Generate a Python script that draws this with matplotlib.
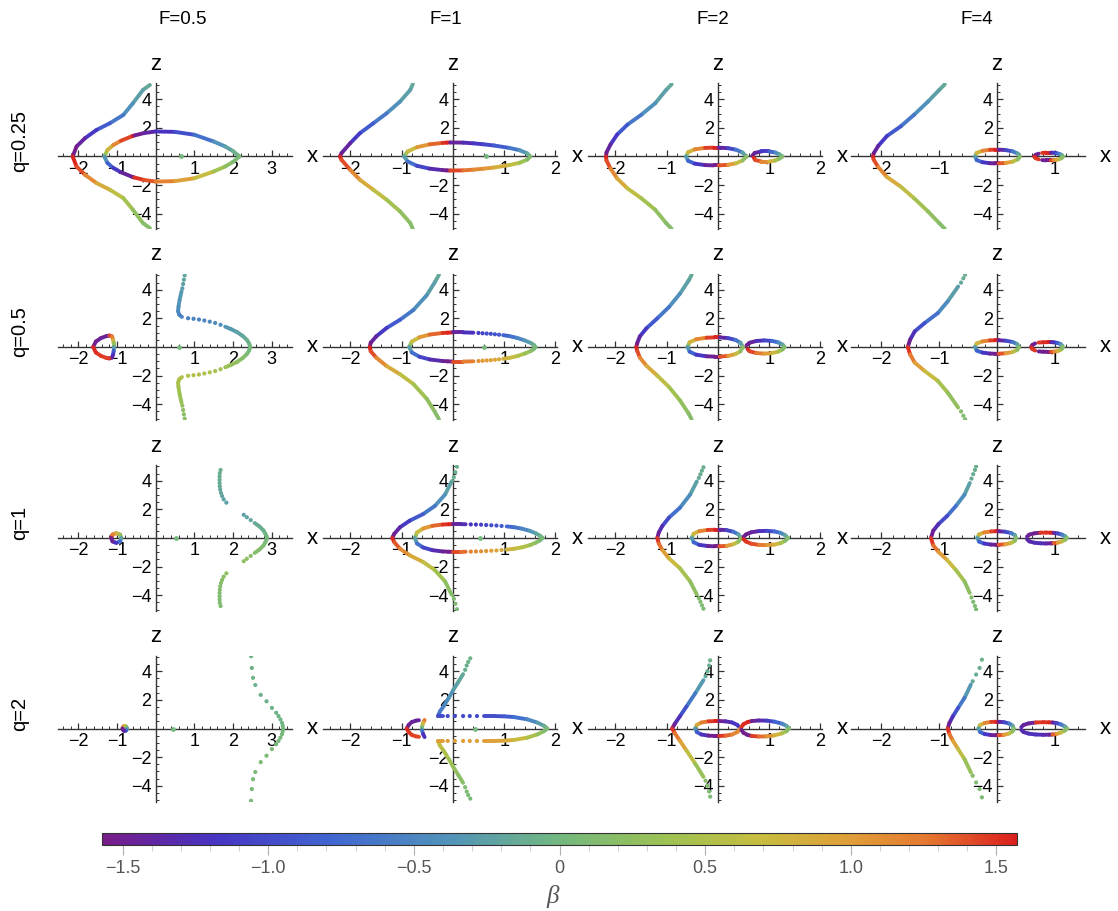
import numpy as np
import matplotlib
matplotlib.use("Agg")
import matplotlib.pyplot as plt
from matplotlib.collections import LineCollection
from matplotlib.colors import LinearSegmentedColormap, Normalize
from matplotlib.ticker import FixedLocator, MultipleLocator
import matplotlib.cm as cm

plt.rcParams['font.family'] = ['Liberation Sans', 'DejaVu Sans']

#===== labels / ranges =====#
F_labels = ['F=0.5', 'F=1', 'F=2', 'F=4']
q_labels = ['q=0.25', 'q=0.5', 'q=1', 'q=2']
x_ranges = [(-2.53, 3.53), (-2.53, 2.03), (-2.53, 2.03), (-2.52, 1.52)]
x_majors = [[-2, -1, 1, 2, 3], [-2, -1, 1, 2], [-2, -1, 1, 2], [-2, -1, 1]]
z_majors = [-4, -2, 2, 4]
cbar_ticks = [-1.5, -1.0, -0.5, 0, 0.5, 1.0, 1.5]
cbar_labels = ['\u22121.5', '\u22121.0', '\u22120.5', '0', '0.5', '1.0', '1.5']

#===== curves: (x, z, beta) =====#
# q=0.25, F=0.5
p00_arm_up = ([-0.15, -0.33, -0.59, -0.84, -1.19, -1.53, -1.83, -2.05, -2.15],
              [5.0, 4.65, 3.72, 2.9, 2.32, 1.86, 1.28, 0.7, 0.0],
              [-0.12, -0.2, -0.32, -0.5, -0.75, -1.0, -1.3, -1.5, -1.57])
p00_arm_dn = ([-2.15, -2.05, -1.83, -1.53, -1.19, -0.84, -0.59, -0.33, -0.15],
              [0.0, -0.7, -1.28, -1.86, -2.32, -2.9, -3.72, -4.65, -5.0],
              [1.57, 1.5, 1.3, 1.0, 0.75, 0.5, 0.32, 0.2, 0.12])
p00_oval_up = ([-1.33, -1.25, -1.1, -0.9, -0.6, -0.55, -0.3, 0.0, 0.5, 1.0, 1.5, 1.8, 2.0, 2.17],
               [0.0, 0.45, 0.8, 1.1, 1.43, 1.47, 1.64, 1.75, 1.72, 1.52, 1.05, 0.7, 0.38, 0.0],
               [0.15, 0.6, 1.0, 1.3, 1.55, -1.55, -1.45, -1.3, -1.1, -0.85, -0.5, -0.3, -0.15, 0.0])
p00_oval_dn = ([-1.33, -1.25, -1.1, -0.9, -0.6, -0.55, -0.3, 0.0, 0.5, 1.0, 1.5, 1.8, 2.0, 2.17],
               [0.0, -0.45, -0.8, -1.1, -1.43, -1.47, -1.64, -1.75, -1.72, -1.52, -1.05, -0.7, -0.38, 0.0],
               [-0.15, -0.6, -1.0, -1.3, -1.55, 1.55, 1.45, 1.3, 1.1, 0.85, 0.5, 0.3, 0.15, 0.0])

# q=0.25, F=1
p01_arm_up = ([-0.78, -0.83, -1.03, -1.29, -1.55, -1.81, -2.0, -2.17, -2.2],
              [5.05, 4.65, 3.83, 3.02, 2.32, 1.63, 0.93, 0.23, 0.0],
              [-0.12, -0.2, -0.32, -0.5, -0.75, -1.0, -1.3, -1.5, -1.57])
p01_arm_dn = ([-2.2, -2.17, -2.0, -1.81, -1.55, -1.29, -1.03, -0.83, -0.78],
              [0.0, -0.23, -0.93, -1.63, -2.32, -3.02, -3.83, -4.65, -5.05],
              [1.57, 1.5, 1.3, 1.0, 0.75, 0.5, 0.32, 0.2, 0.12])
p01_oval_up = ([-0.95, -0.88, -0.7, -0.45, -0.2, -0.12, -0.05, 0.2, 0.4, 0.6, 0.8, 1.1, 1.3, 1.45, 1.51],
               [0.0, 0.35, 0.65, 0.85, 0.95, 0.97, 0.98, 0.97, 0.92, 0.85, 0.77, 0.6, 0.44, 0.22, 0.0],
               [0.1, 0.5, 0.9, 1.2, 1.45, 1.55, -1.5, -1.35, -1.2, -1.1, -0.95, -0.75, -0.5, -0.25, 0.0])
p01_oval_dn = ([-0.95, -0.88, -0.7, -0.45, -0.2, -0.12, -0.05, 0.2, 0.4, 0.6, 0.8, 1.1, 1.3, 1.45, 1.51],
               [0.0, -0.35, -0.65, -0.85, -0.95, -0.97, -0.98, -0.97, -0.92, -0.85, -0.77, -0.6, -0.44, -0.22, 0.0],
               [-0.1, -0.5, -0.9, -1.2, -1.45, -1.55, 1.5, 1.35, 1.2, 1.1, 0.95, 0.75, 0.5, 0.25, 0.0])

# q=0.25, F=2
p02_arm_up = ([-0.9, -1.01, -1.22, -1.49, -1.76, -1.96, -2.09, -2.17, -2.18],
              [5.05, 4.64, 3.72, 2.92, 2.23, 1.54, 0.85, 0.28, 0.0],
              [-0.12, -0.2, -0.32, -0.5, -0.75, -1.0, -1.3, -1.5, -1.57])
p02_arm_dn = ([-2.18, -2.17, -2.09, -1.96, -1.76, -1.49, -1.22, -1.01, -0.9],
              [0.0, -0.28, -0.85, -1.54, -2.23, -2.92, -3.72, -4.64, -5.05],
              [1.57, 1.5, 1.3, 1.0, 0.75, 0.5, 0.32, 0.2, 0.12])
p02_loopL_up = ([-0.62, -0.58, -0.45, -0.25, -0.08, 0.02, 0.2, 0.35, 0.48, 0.56],
                [0.0, 0.3, 0.5, 0.6, 0.62, 0.62, 0.58, 0.48, 0.28, 0.0],
                [0.05, 0.6, 1.0, 1.35, 1.55, -1.55, -1.2, -0.85, -0.45, 0.0])
p02_loopL_dn = ([-0.62, -0.58, -0.45, -0.25, -0.08, 0.02, 0.2, 0.35, 0.48, 0.56],
                [0.0, -0.3, -0.5, -0.6, -0.62, -0.62, -0.58, -0.48, -0.28, 0.0],
                [-0.05, -0.6, -1.0, -1.35, -1.55, 1.55, 1.2, 0.85, 0.45, 0.0])
p02_loopR_up = ([0.67, 0.72, 0.85, 1.0, 1.12, 1.2, 1.26],
                [0.05, 0.25, 0.35, 0.35, 0.28, 0.15, 0.0],
                [-1.55, -1.5, -1.3, -1.0, -0.6, -0.3, 0.0])
p02_loopR_dn = ([0.7, 0.73, 0.85, 1.0, 1.12, 1.2, 1.26],
                [-0.08, -0.25, -0.35, -0.35, -0.28, -0.15, 0.0],
                [1.55, 1.5, 1.3, 1.0, 0.6, 0.3, 0.0])

# q=0.25, F=4
p03_arm_up = ([-0.9, -1.0, -1.19, -1.43, -1.66, -1.9, -2.05, -2.13, -2.14],
              [5.05, 4.64, 3.84, 2.92, 2.11, 1.43, 0.74, 0.21, 0.0],
              [-0.12, -0.2, -0.32, -0.5, -0.75, -1.0, -1.3, -1.5, -1.57])
p03_arm_dn = ([-2.14, -2.13, -2.05, -1.9, -1.66, -1.43, -1.19, -1.0, -0.9],
              [0.0, -0.21, -0.74, -1.43, -2.11, -2.92, -3.84, -4.64, -5.05],
              [1.57, 1.5, 1.3, 1.0, 0.75, 0.5, 0.32, 0.2, 0.12])
p03_loopL_up = ([-0.38, -0.35, -0.25, -0.12, -0.03, 0.03, 0.15, 0.27, 0.36, 0.4],
                [0.0, 0.25, 0.4, 0.47, 0.48, 0.48, 0.45, 0.36, 0.2, 0.0],
                [0.05, 0.6, 1.0, 1.35, 1.55, -1.55, -1.2, -0.8, -0.4, 0.0])
p03_loopL_dn = ([-0.38, -0.35, -0.25, -0.12, -0.03, 0.03, 0.15, 0.27, 0.36, 0.4],
                [0.0, -0.25, -0.4, -0.47, -0.48, -0.48, -0.45, -0.36, -0.2, 0.0],
                [-0.05, -0.6, -1.0, -1.35, -1.55, 1.55, 1.2, 0.8, 0.4, 0.0])
p03_capR_up = ([0.72, 0.67, 0.645], [0.2, 0.12, 0.02], [-1.45, -1.5, -1.55])
p03_capR_dn = ([0.645, 0.67, 0.72], [-0.02, -0.12, -0.2], [1.55, 1.5, 1.45])
p03_loopR_up = ([0.78, 0.85, 0.9, 0.93, 0.98, 1.03, 1.08, 1.12, 1.14],
                [0.25, 0.27, 0.27, 0.27, 0.26, 0.23, 0.18, 0.1, 0.0],
                [1.45, 1.5, 1.55, -1.55, -1.3, -1.0, -0.7, -0.35, 0.0])
p03_loopR_dn = ([0.78, 0.85, 0.9, 0.93, 0.98, 1.03, 1.08, 1.12, 1.14],
                [-0.25, -0.27, -0.27, -0.27, -0.26, -0.23, -0.18, -0.1, 0.0],
                [-1.45, -1.5, -1.55, 1.55, 1.3, 1.0, 0.7, 0.35, 0.0])

# q=0.5, F=0.5
p10_drop_up = ([-1.62, -1.55, -1.42, -1.28, -1.2],
               [0.0, 0.38, 0.62, 0.76, 0.8],
               [-1.55, -1.5, -1.45, -1.45, -1.5])
p10_drop_side = ([-1.2, -1.13, -1.1, -1.09, -1.09, -1.09, -1.1, -1.13, -1.2],
                 [0.8, 0.74, 0.5, 0.25, 0.0, -0.25, -0.5, -0.74, -0.8],
                 [1.5, 1.35, 1.1, 0.6, 0.0, -0.6, -1.1, -1.35, -1.5])
p10_drop_dn = ([-1.2, -1.28, -1.42, -1.55, -1.62],
               [-0.8, -0.76, -0.62, -0.38, 0.0],
               [1.5, 1.45, 1.45, 1.5, 1.55])
p10_top_dots = ([0.75, 0.73, 0.71, 0.69], [5.0, 4.7, 4.4, 4.1], [-0.2, -0.22, -0.25, -0.28])
p10_up_a = ([0.67, 0.62, 0.59, 0.58, 0.61, 0.68],
            [3.9, 3.3, 2.8, 2.5, 2.25, 2.1],
            [-0.3, -0.35, -0.4, -0.45, -0.5, -0.55])
p10_up_dots = ([0.84, 0.98, 1.12, 1.26, 1.4, 1.54, 1.68],
               [2.01, 1.97, 1.92, 1.85, 1.77, 1.68, 1.55],
               [-0.55, -0.55, -0.52, -0.5, -0.48, -0.45, -0.42])
p10_up_b = ([1.8, 1.95, 2.1, 2.25, 2.36, 2.42, 2.45],
            [1.42, 1.25, 1.05, 0.78, 0.5, 0.25, 0.0],
            [-0.38, -0.33, -0.27, -0.2, -0.12, -0.06, 0.0])
p10_bot_dots = ([0.75, 0.73, 0.71, 0.69], [-5.0, -4.7, -4.4, -4.1], [0.2, 0.22, 0.25, 0.28])
p10_dn_a = ([0.67, 0.62, 0.59, 0.58, 0.61, 0.68],
            [-3.9, -3.3, -2.8, -2.5, -2.25, -2.1],
            [0.3, 0.35, 0.4, 0.45, 0.5, 0.55])
p10_dn_dots = ([0.84, 0.98, 1.12, 1.26, 1.4, 1.54, 1.68],
               [-2.01, -1.97, -1.92, -1.85, -1.77, -1.68, -1.55],
               [0.55, 0.55, 0.52, 0.5, 0.48, 0.45, 0.42])
p10_dn_b = ([1.8, 1.95, 2.1, 2.25, 2.36, 2.42, 2.45],
            [-1.42, -1.25, -1.05, -0.78, -0.5, -0.25, 0.0],
            [0.38, 0.33, 0.27, 0.2, 0.12, 0.06, 0.0])

# q=0.5, F=1
p11_arm_up = ([-0.27, -0.35, -0.51, -0.77, -1.03, -1.29, -1.49, -1.6, -1.62],
              [5.05, 4.53, 3.61, 2.58, 1.9, 1.33, 0.75, 0.3, 0.0],
              [-0.12, -0.2, -0.32, -0.5, -0.75, -1.0, -1.3, -1.5, -1.57])
p11_arm_dn = ([-1.62, -1.6, -1.49, -1.29, -1.03, -0.77, -0.51, -0.35, -0.27],
              [0.0, -0.3, -0.75, -1.33, -1.9, -2.58, -3.61, -4.53, -5.05],
              [1.57, 1.5, 1.3, 1.0, 0.75, 0.5, 0.32, 0.2, 0.12])
p11_oval_up_a = ([-0.85, -0.8, -0.65, -0.45, -0.2, -0.1, 0.0, 0.2, 0.4],
                 [0.0, 0.38, 0.68, 0.87, 0.98, 1.0, 1.02, 1.02, 1.0],
                 [0.05, 0.5, 0.9, 1.2, 1.45, 1.55, -1.5, -1.3, -1.15])
p11_oval_up_dots = ([0.5, 0.58, 0.66, 0.74, 0.82, 0.9],
                    [0.98, 0.96, 0.94, 0.92, 0.89, 0.86],
                    [-1.1, -1.05, -1.0, -0.97, -0.93, -0.9])
p11_oval_up_b = ([0.98, 1.1, 1.25, 1.4, 1.52, 1.58, 1.61],
                 [0.83, 0.76, 0.64, 0.46, 0.28, 0.14, 0.0],
                 [-0.85, -0.75, -0.6, -0.42, -0.25, -0.12, 0.0])
p11_oval_dn_a = ([-0.85, -0.8, -0.65, -0.45, -0.2, -0.1, 0.0, 0.2, 0.4],
                 [0.0, -0.38, -0.68, -0.87, -0.98, -1.0, -1.02, -1.02, -1.0],
                 [-0.05, -0.5, -0.9, -1.2, -1.45, -1.55, 1.5, 1.3, 1.15])
p11_oval_dn_dots = ([0.5, 0.58, 0.66, 0.74, 0.82, 0.9],
                    [-0.98, -0.96, -0.94, -0.92, -0.89, -0.86],
                    [1.1, 1.05, 1.0, 0.97, 0.93, 0.9])
p11_oval_dn_b = ([0.98, 1.1, 1.25, 1.4, 1.52, 1.58, 1.61],
                 [-0.83, -0.76, -0.64, -0.46, -0.28, -0.14, 0.0],
                 [0.85, 0.75, 0.6, 0.42, 0.25, 0.12, 0.0])

# q=0.5, F=2
p12_arm_up = ([-0.51, -0.57, -0.74, -0.95, -1.18, -1.39, -1.52, -1.57, -1.59],
              [5.05, 4.64, 3.72, 2.8, 2.0, 1.31, 0.74, 0.28, 0.0],
              [-0.12, -0.2, -0.32, -0.5, -0.75, -1.0, -1.3, -1.5, -1.57])
p12_arm_dn = ([-1.59, -1.57, -1.52, -1.39, -1.18, -0.95, -0.74, -0.57, -0.51],
              [0.0, -0.28, -0.74, -1.31, -2.0, -2.8, -3.72, -4.64, -5.05],
              [1.57, 1.5, 1.3, 1.0, 0.75, 0.5, 0.32, 0.2, 0.12])
p12_loopL_up = ([-0.59, -0.55, -0.42, -0.22, -0.06, 0.04, 0.2, 0.34, 0.44, 0.49],
                [0.0, 0.33, 0.54, 0.65, 0.67, 0.67, 0.62, 0.5, 0.3, 0.0],
                [0.05, 0.6, 1.0, 1.35, 1.55, -1.55, -1.2, -0.85, -0.45, 0.0])
p12_loopL_dn = ([-0.59, -0.55, -0.42, -0.22, -0.06, 0.04, 0.2, 0.34, 0.44, 0.49],
                [0.0, -0.33, -0.54, -0.65, -0.67, -0.67, -0.62, -0.5, -0.3, 0.0],
                [-0.05, -0.6, -1.0, -1.35, -1.55, 1.55, 1.2, 0.85, 0.45, 0.0])
p12_loopR_up = ([0.56, 0.62, 0.75, 0.9, 1.05, 1.18, 1.26, 1.3],
                [0.12, 0.3, 0.42, 0.46, 0.43, 0.32, 0.17, 0.0],
                [-1.55, -1.5, -1.35, -1.15, -0.9, -0.6, -0.3, 0.0])
p12_loopR_dn = ([0.58, 0.62, 0.75, 0.9, 1.05, 1.18, 1.26, 1.3],
                [-0.15, -0.3, -0.42, -0.46, -0.43, -0.32, -0.17, 0.0],
                [1.55, 1.5, 1.35, 1.15, 0.9, 0.6, 0.3, 0.0])

# q=0.5, F=4
p13_top_dots = ([-0.55, -0.58, -0.62], [5.05, 4.8, 4.5], [-0.1, -0.13, -0.16])
p13_arm_up = ([-0.67, -0.85, -1.02, -1.25, -1.42, -1.5, -1.54],
              [4.23, 3.19, 2.37, 1.67, 1.09, 0.51, 0.0],
              [-0.2, -0.35, -0.55, -0.85, -1.1, -1.4, -1.57])
p13_bot_dots = ([-0.55, -0.58, -0.62], [-5.05, -4.8, -4.5], [0.1, 0.13, 0.16])
p13_arm_dn = ([-1.54, -1.5, -1.42, -1.25, -1.02, -0.85, -0.67],
              [0.0, -0.51, -1.09, -1.67, -2.37, -3.19, -4.23],
              [1.57, 1.4, 1.1, 0.85, 0.55, 0.35, 0.2])
p13_loopL_up = ([-0.38, -0.35, -0.25, -0.12, -0.03, 0.03, 0.15, 0.27, 0.35, 0.38],
                [0.0, 0.25, 0.39, 0.46, 0.47, 0.47, 0.44, 0.35, 0.2, 0.0],
                [0.05, 0.6, 1.0, 1.35, 1.55, -1.55, -1.2, -0.8, -0.4, 0.0])
p13_loopL_dn = ([-0.38, -0.35, -0.25, -0.12, -0.03, 0.03, 0.15, 0.27, 0.35, 0.38],
                [0.0, -0.25, -0.39, -0.46, -0.47, -0.47, -0.44, -0.35, -0.2, 0.0],
                [-0.05, -0.6, -1.0, -1.35, -1.55, 1.55, 1.2, 0.8, 0.4, 0.0])
p13_capR_up = ([0.66, 0.61, 0.59], [0.25, 0.14, 0.02], [-1.45, -1.5, -1.55])
p13_capR_dn = ([0.59, 0.61, 0.66], [-0.02, -0.14, -0.25], [1.55, 1.5, 1.45])
p13_loopR_up = ([0.72, 0.8, 0.88, 0.93, 0.98, 1.04, 1.09, 1.12, 1.14],
                [0.31, 0.33, 0.34, 0.34, 0.33, 0.29, 0.22, 0.12, 0.0],
                [1.45, 1.5, 1.55, -1.55, -1.3, -1.0, -0.7, -0.35, 0.0])
p13_loopR_dn = ([0.72, 0.8, 0.88, 0.93, 0.98, 1.04, 1.09, 1.12, 1.14],
                [-0.31, -0.33, -0.34, -0.34, -0.33, -0.29, -0.22, -0.12, 0.0],
                [-1.45, -1.5, -1.55, 1.55, 1.3, 1.0, 0.7, 0.35, 0.0])

# q=1, F=0.5
p20_ring = ([-1.15, -1.12, -1.02, -0.92, -0.89, -0.92, -1.02, -1.12, -1.15],
            [0.0, 0.24, 0.34, 0.24, 0.0, -0.24, -0.34, -0.24, 0.0],
            [1.55, 1.4, 1.0, 0.5, 0.0, -0.5, -1.0, -1.4, -1.55])
p20_col_up = ([1.68, 1.66, 1.655, 1.655, 1.655, 1.66, 1.67, 1.69, 1.72, 1.76, 1.83],
              [4.75, 4.53, 4.3, 4.07, 3.84, 3.61, 3.38, 3.15, 2.93, 2.7, 2.47],
              [-0.1, -0.1, -0.12, -0.12, -0.14, -0.15, -0.16, -0.18, -0.2, -0.22, -0.25])
p20_col_dn = ([1.68, 1.66, 1.655, 1.655, 1.655, 1.66, 1.67, 1.69, 1.72, 1.76, 1.83],
              [-4.75, -4.53, -4.3, -4.07, -3.84, -3.61, -3.38, -3.15, -2.93, -2.7, -2.47],
              [0.1, 0.1, 0.12, 0.12, 0.14, 0.15, 0.16, 0.18, 0.2, 0.22, 0.25])
p20_vtx_up_dots = ([2.28, 2.36, 2.46], [1.62, 1.45, 1.25], [-0.25, -0.22, -0.2])
p20_vtx_dn_dots = ([2.28, 2.36, 2.46], [-1.62, -1.45, -1.25], [0.25, 0.22, 0.2])
p20_vtx = ([2.56, 2.69, 2.79, 2.84, 2.87, 2.88, 2.87, 2.84, 2.79, 2.69, 2.56],
           [1.05, 0.8, 0.53, 0.3, 0.12, 0.0, -0.12, -0.3, -0.53, -0.8, -1.05],
           [-0.17, -0.13, -0.09, -0.05, -0.02, 0.0, 0.02, 0.05, 0.09, 0.13, 0.17])

# q=1, F=1
p21_top_dots = ([0.08, 0.05, 0.02], [4.98, 4.6, 4.25], [-0.08, -0.1, -0.12])
p21_arm_up = ([-0.01, -0.04, -0.15, -0.35, -0.58, -0.84, -1.03, -1.14, -1.18],
              [4.0, 3.84, 3.04, 2.24, 1.67, 1.21, 0.75, 0.3, 0.0],
              [-0.14, -0.17, -0.3, -0.5, -0.75, -1.0, -1.25, -1.48, -1.57])
p21_bot_dots = ([0.08, 0.05, 0.02], [-4.98, -4.6, -4.25], [0.08, 0.1, 0.12])
p21_arm_dn = ([-1.18, -1.14, -1.03, -0.84, -0.58, -0.35, -0.15, -0.04, -0.01],
              [0.0, -0.3, -0.75, -1.21, -1.67, -2.24, -3.04, -3.84, -4.0],
              [1.57, 1.48, 1.25, 1.0, 0.75, 0.5, 0.3, 0.17, 0.14])
p21_oval_up_a = ([-0.74, -0.7, -0.58, -0.4, -0.2, -0.08, 0.0, 0.15, 0.25],
                 [0.0, 0.38, 0.66, 0.85, 0.94, 0.96, 0.97, 0.97, 0.96],
                 [0.05, 0.5, 0.9, 1.2, 1.45, 1.55, -1.5, -1.35, -1.25])
p21_oval_up_dots = ([0.35, 0.45, 0.55, 0.65, 0.75, 0.85, 0.95],
                    [0.95, 0.94, 0.93, 0.91, 0.89, 0.87, 0.84],
                    [-1.2, -1.15, -1.1, -1.05, -1.0, -0.95, -0.9])
p21_oval_up_b = ([1.05, 1.2, 1.35, 1.5, 1.62, 1.7, 1.75],
                 [0.81, 0.75, 0.65, 0.5, 0.32, 0.16, 0.0],
                 [-0.85, -0.72, -0.58, -0.42, -0.25, -0.12, 0.0])
p21_oval_dn_a = ([-0.74, -0.7, -0.58, -0.4, -0.2, -0.08, 0.0, 0.15, 0.25],
                 [0.0, -0.38, -0.66, -0.85, -0.94, -0.96, -0.97, -0.97, -0.96],
                 [-0.05, -0.5, -0.9, -1.2, -1.45, -1.55, 1.5, 1.35, 1.25])
p21_oval_dn_dots = ([0.35, 0.45, 0.55, 0.65, 0.75, 0.85, 0.95],
                    [-0.95, -0.94, -0.93, -0.91, -0.89, -0.87, -0.84],
                    [1.2, 1.15, 1.1, 1.05, 1.0, 0.95, 0.9])
p21_oval_dn_b = ([1.05, 1.2, 1.35, 1.5, 1.62, 1.7, 1.75],
                 [-0.81, -0.75, -0.65, -0.5, -0.32, -0.16, 0.0],
                 [0.85, 0.72, 0.58, 0.42, 0.25, 0.12, 0.0])

# q=1, F=2
p22_top_dots = ([-0.28, -0.31, -0.34, -0.37], [4.94, 4.7, 4.45, 4.2], [-0.08, -0.1, -0.12, -0.14])
p22_arm_up = ([-0.41, -0.54, -0.74, -0.95, -1.08, -1.15, -1.18],
              [3.95, 3.03, 2.11, 1.43, 0.85, 0.39, 0.0],
              [-0.18, -0.32, -0.55, -0.85, -1.15, -1.42, -1.57])
p22_bot_dots = ([-0.28, -0.31, -0.34, -0.37], [-4.94, -4.7, -4.45, -4.2], [0.08, 0.1, 0.12, 0.14])
p22_arm_dn = ([-1.18, -1.15, -1.08, -0.95, -0.74, -0.54, -0.41],
              [0.0, -0.39, -0.85, -1.43, -2.11, -3.03, -3.95],
              [1.57, 1.42, 1.15, 0.85, 0.55, 0.32, 0.18])
p22_loopL_up = ([-0.51, -0.47, -0.36, -0.2, -0.06, 0.03, 0.17, 0.3, 0.4, 0.46],
                [0.0, 0.3, 0.48, 0.56, 0.58, 0.58, 0.55, 0.44, 0.26, 0.0],
                [0.05, 0.6, 1.0, 1.35, 1.55, -1.55, -1.2, -0.85, -0.45, 0.0])
p22_loopL_dn = ([-0.51, -0.47, -0.36, -0.2, -0.06, 0.03, 0.17, 0.3, 0.4, 0.46],
                [0.0, -0.3, -0.48, -0.56, -0.58, -0.58, -0.55, -0.44, -0.26, 0.0],
                [-0.05, -0.6, -1.0, -1.35, -1.55, 1.55, 1.2, 0.85, 0.45, 0.0])
p22_loopR_up = ([0.5, 0.55, 0.65, 0.8, 0.95, 1.1, 1.22, 1.31, 1.37],
                [0.08, 0.25, 0.4, 0.48, 0.5, 0.46, 0.36, 0.2, 0.0],
                [-1.55, -1.5, -1.45, -1.35, -1.15, -0.9, -0.6, -0.3, 0.0])
p22_loopR_dn = ([0.5, 0.55, 0.65, 0.8, 0.95, 1.1, 1.22, 1.31, 1.37],
                [-0.08, -0.25, -0.4, -0.48, -0.5, -0.46, -0.36, -0.2, 0.0],
                [1.55, 1.5, 1.45, 1.35, 1.15, 0.9, 0.6, 0.3, 0.0])

# q=1, F=4
p23_top_dots = ([-0.36, -0.38, -0.41, -0.44], [5.0, 4.75, 4.46, 4.15], [-0.08, -0.1, -0.12, -0.14])
p23_arm_up = ([-0.47, -0.56, -0.71, -0.86, -1.01, -1.1, -1.14],
              [3.84, 3.03, 2.23, 1.54, 0.97, 0.51, 0.0],
              [-0.18, -0.32, -0.55, -0.85, -1.15, -1.42, -1.57])
p23_bot_dots = ([-0.36, -0.38, -0.41, -0.44], [-5.0, -4.75, -4.46, -4.15], [0.08, 0.1, 0.12, 0.14])
p23_arm_dn = ([-1.14, -1.1, -1.01, -0.86, -0.71, -0.56, -0.47],
              [0.0, -0.51, -0.97, -1.54, -2.23, -3.03, -3.84],
              [1.57, 1.42, 1.15, 0.85, 0.55, 0.32, 0.18])
p23_loopL_up = ([-0.34, -0.31, -0.22, -0.1, -0.02, 0.03, 0.14, 0.24, 0.31, 0.33],
                [0.0, 0.25, 0.39, 0.46, 0.47, 0.47, 0.44, 0.35, 0.2, 0.0],
                [0.05, 0.6, 1.0, 1.35, 1.55, -1.55, -1.2, -0.8, -0.4, 0.0])
p23_loopL_dn = ([-0.34, -0.31, -0.22, -0.1, -0.02, 0.03, 0.14, 0.24, 0.31, 0.33],
                [0.0, -0.25, -0.39, -0.46, -0.47, -0.47, -0.44, -0.35, -0.2, 0.0],
                [-0.05, -0.6, -1.0, -1.35, -1.55, 1.55, 1.2, 0.8, 0.4, 0.0])
p23_loopR_up = ([0.52, 0.56, 0.65, 0.75, 0.85, 0.93, 0.98, 1.05, 1.12, 1.18, 1.21],
                [0.1, 0.24, 0.33, 0.37, 0.38, 0.37, 0.36, 0.32, 0.24, 0.12, 0.0],
                [-1.4, -1.45, -1.5, 1.5, 1.45, 1.55, -1.5, -1.2, -0.8, -0.4, 0.0])
p23_loopR_dn = ([0.52, 0.56, 0.65, 0.75, 0.85, 0.93, 0.98, 1.05, 1.12, 1.18, 1.21],
                [-0.1, -0.24, -0.33, -0.37, -0.38, -0.37, -0.36, -0.32, -0.24, -0.12, 0.0],
                [-1.4, -1.35, -1.3, -1.25, -1.3, -1.5, 1.5, 1.2, 0.8, 0.4, 0.0])

# q=2, F=0.5
p30_blob = ([-0.86, -0.84, -0.8, -0.76, -0.74, -0.76, -0.8, -0.84, -0.86],
            [0.0, 0.13, 0.18, 0.13, 0.0, -0.13, -0.18, -0.13, 0.0],
            [1.55, 1.4, 1.0, 0.5, 0.0, -0.5, -1.0, -1.4, -1.55])
p30_up_dots = ([2.47, 2.49, 2.52, 2.58, 2.72, 2.87, 3.01, 3.12, 3.18, 3.23, 3.27, 3.29, 3.3],
               [5.05, 4.23, 3.54, 3.04, 2.35, 1.9, 1.44, 1.1, 0.87, 0.64, 0.4, 0.2, 0.0],
               [-0.05, -0.05, -0.06, -0.07, -0.08, -0.08, -0.07, -0.06, -0.05, -0.04, -0.03, -0.02, 0.0])
p30_dn_dots = ([2.47, 2.49, 2.52, 2.58, 2.72, 2.87, 3.01, 3.12, 3.18, 3.23, 3.27, 3.29],
               [-5.05, -4.23, -3.54, -3.04, -2.35, -1.9, -1.44, -1.1, -0.87, -0.64, -0.4, -0.2],
               [0.05, 0.05, 0.06, 0.07, 0.08, 0.08, 0.07, 0.06, 0.05, 0.04, 0.03, 0.02])

# q=2, F=1
p31_bowl_up = ([-0.9, -0.86, -0.8, -0.72, -0.66], [0.0, 0.25, 0.45, 0.55, 0.58], [-1.55, -1.5, -1.45, -1.45, -1.4])
p31_bowl_dn = ([-0.9, -0.86, -0.8, -0.72, -0.66], [0.0, -0.25, -0.45, -0.55, -0.58], [1.55, 1.5, 1.45, 1.45, 1.4])
p31_paren = ([-0.55, -0.58, -0.6, -0.6, -0.58, -0.55],
             [0.6, 0.38, 0.12, -0.12, -0.38, -0.6],
             [1.5, 1.0, 0.35, -0.35, -1.0, -1.5])
p31_arm_up = ([-0.29, -0.25, -0.18, -0.08, 0.01, 0.11, 0.2],
              [0.87, 1.2, 1.55, 2.13, 2.7, 3.27, 3.8],
              [-0.75, -0.65, -0.55, -0.42, -0.32, -0.22, -0.16])
p31_top_dots = ([0.24, 0.27, 0.3, 0.34], [4.1, 4.4, 4.65, 4.9], [-0.12, -0.1, -0.08, -0.06])
p31_arm_dn = ([-0.29, -0.25, -0.18, -0.08, 0.01, 0.11, 0.2],
              [-0.87, -1.2, -1.55, -2.13, -2.7, -3.27, -3.8],
              [0.75, 0.65, 0.55, 0.42, 0.32, 0.22, 0.16])
p31_bot_dots = ([0.24, 0.27, 0.3, 0.34], [-4.1, -4.4, -4.65, -4.9], [0.12, 0.1, 0.08, 0.06])
p31_bar_up_a = ([-0.29, -0.24, -0.19], [0.87, 0.87, 0.87], [-1.0, -1.0, -1.0])
p31_bar_up_dots = ([-0.1, 0.04, 0.2, 0.33, 0.47], [0.87, 0.87, 0.87, 0.87, 0.87], [-1.0, -1.0, -1.0, -1.0, -1.0])
p31_bar_up_b = ([0.6, 0.8, 1.0, 1.19, 1.45, 1.65, 1.78, 1.84],
                [0.87, 0.87, 0.85, 0.8, 0.64, 0.41, 0.18, 0.0],
                [-1.0, -0.97, -0.92, -0.82, -0.6, -0.38, -0.18, 0.0])
p31_bar_dn_a = ([-0.29, -0.24, -0.19], [-0.87, -0.87, -0.87], [1.0, 1.0, 1.0])
p31_bar_dn_dots = ([-0.1, 0.04, 0.2, 0.33, 0.47], [-0.87, -0.87, -0.87, -0.87, -0.87], [1.0, 1.0, 1.0, 1.0, 1.0])
p31_bar_dn_b = ([0.6, 0.8, 1.0, 1.19, 1.45, 1.65, 1.78, 1.84],
                [-0.87, -0.87, -0.85, -0.8, -0.64, -0.41, -0.18, 0.0],
                [1.0, 0.97, 0.92, 0.82, 0.6, 0.38, 0.18, 0.0])

# q=2, F=2
p32_top_dots = ([-0.15, -0.17, -0.2, -0.24], [4.76, 4.4, 4.0, 3.65], [-0.08, -0.1, -0.13, -0.16])
p32_arm_up = ([-0.28, -0.44, -0.61, -0.74, -0.84, -0.89],
              [3.38, 2.46, 1.54, 0.85, 0.32, 0.0],
              [-0.2, -0.45, -0.8, -1.1, -1.42, -1.57])
p32_bot_dots = ([-0.15, -0.17, -0.2, -0.24], [-4.76, -4.4, -4.0, -3.65], [0.08, 0.1, 0.13, 0.16])
p32_arm_dn = ([-0.89, -0.84, -0.74, -0.61, -0.44, -0.28],
              [0.0, -0.32, -0.85, -1.54, -2.46, -3.38],
              [1.57, 1.42, 1.1, 0.8, 0.45, 0.2])
p32_loopL_up = ([-0.44, -0.41, -0.32, -0.18, -0.05, 0.03, 0.15, 0.28, 0.38, 0.44],
                [0.0, 0.25, 0.42, 0.5, 0.52, 0.52, 0.5, 0.42, 0.25, 0.0],
                [0.1, 0.7, 1.1, 1.4, 1.55, -1.55, -1.4, -1.25, -1.1, -1.2])
p32_loopL_dn = ([-0.44, -0.41, -0.32, -0.18, -0.05, 0.03, 0.15, 0.28, 0.38, 0.44],
                [0.0, -0.25, -0.42, -0.5, -0.52, -0.52, -0.5, -0.42, -0.25, 0.0],
                [-0.1, -0.7, -1.1, -1.4, -1.55, 1.55, 1.4, 1.25, 1.1, 1.2])
p32_loopR_up = ([0.46, 0.5, 0.58, 0.66, 0.8, 0.95, 1.1, 1.25, 1.34, 1.39],
                [0.1, 0.3, 0.45, 0.52, 0.56, 0.55, 0.48, 0.34, 0.18, 0.0],
                [1.5, 1.5, 1.55, -1.5, -1.4, -1.2, -0.95, -0.65, -0.35, 0.0])
p32_loopR_dn = ([0.46, 0.5, 0.58, 0.66, 0.8, 0.95, 1.1, 1.25, 1.34, 1.39],
                [-0.1, -0.3, -0.45, -0.52, -0.56, -0.55, -0.48, -0.34, -0.18, 0.0],
                [-1.5, -1.5, -1.55, 1.5, 1.4, 1.2, 0.95, 0.65, 0.35, 0.0])

# q=2, F=4
p33_top_dots = ([-0.26, -0.3, -0.36, -0.42], [4.81, 4.23, 3.77, 3.3], [-0.08, -0.1, -0.13, -0.16])
p33_arm_up = ([-0.45, -0.56, -0.67, -0.76, -0.82, -0.85],
              [3.07, 2.14, 1.44, 0.86, 0.4, 0.0],
              [-0.22, -0.45, -0.8, -1.1, -1.42, -1.57])
p33_bot_dots = ([-0.26, -0.3, -0.36, -0.42], [-4.81, -4.23, -3.77, -3.3], [0.08, 0.1, 0.13, 0.16])
p33_arm_dn = ([-0.85, -0.82, -0.76, -0.67, -0.56, -0.45],
              [0.0, -0.4, -0.86, -1.44, -2.14, -3.07],
              [1.57, 1.42, 1.1, 0.8, 0.45, 0.22])
p33_loopL_up = ([-0.32, -0.29, -0.21, -0.1, -0.02, 0.03, 0.12, 0.21, 0.27, 0.29],
                [0.0, 0.25, 0.39, 0.46, 0.47, 0.47, 0.44, 0.35, 0.2, 0.0],
                [0.05, 0.6, 1.0, 1.35, 1.55, -1.55, -1.2, -0.8, -0.4, 0.0])
p33_loopL_dn = ([-0.32, -0.29, -0.21, -0.1, -0.02, 0.03, 0.12, 0.21, 0.27, 0.29],
                [0.0, -0.25, -0.39, -0.46, -0.47, -0.47, -0.44, -0.35, -0.2, 0.0],
                [-0.05, -0.6, -1.0, -1.35, -1.55, 1.55, 1.2, 0.8, 0.4, 0.0])
p33_loopR_up = ([0.42, 0.46, 0.55, 0.67, 0.8, 0.9, 0.96, 1.03, 1.1, 1.17, 1.21],
                [0.1, 0.25, 0.36, 0.42, 0.44, 0.43, 0.42, 0.38, 0.29, 0.15, 0.0],
                [-1.35, -1.4, -1.45, 1.5, 1.45, 1.55, -1.5, -1.2, -0.8, -0.4, 0.0])
p33_loopR_dn = ([0.42, 0.46, 0.55, 0.67, 0.8, 0.9, 0.96, 1.03, 1.1, 1.17, 1.21],
                [-0.1, -0.25, -0.36, -0.42, -0.44, -0.43, -0.42, -0.38, -0.29, -0.15, 0.0],
                [-1.35, -1.3, -1.3, -1.2, -1.25, -1.45, 1.5, 1.2, 0.8, 0.4, 0.0])

# isolated point on the x axis (x position)
centre_dot_x = {(0, 0): 0.66, (0, 1): 0.65, (1, 0): 0.6, (1, 1): 0.6,
                (2, 0): 0.52, (2, 1): 0.52, (3, 0): 0.45, (3, 1): 0.44}

panel_lines = {
    (0, 0): [p00_arm_up, p00_arm_dn, p00_oval_up, p00_oval_dn],
    (0, 1): [p01_arm_up, p01_arm_dn, p01_oval_up, p01_oval_dn],
    (0, 2): [p02_arm_up, p02_arm_dn, p02_loopL_up, p02_loopL_dn, p02_loopR_up, p02_loopR_dn],
    (0, 3): [p03_arm_up, p03_arm_dn, p03_loopL_up, p03_loopL_dn, p03_capR_up, p03_capR_dn,
             p03_loopR_up, p03_loopR_dn],
    (1, 0): [p10_drop_up, p10_drop_side, p10_drop_dn, p10_up_a, p10_up_b, p10_dn_a, p10_dn_b],
    (1, 1): [p11_arm_up, p11_arm_dn, p11_oval_up_a, p11_oval_up_b, p11_oval_dn_a, p11_oval_dn_b],
    (1, 2): [p12_arm_up, p12_arm_dn, p12_loopL_up, p12_loopL_dn, p12_loopR_up, p12_loopR_dn],
    (1, 3): [p13_arm_up, p13_arm_dn, p13_loopL_up, p13_loopL_dn, p13_capR_up, p13_capR_dn,
             p13_loopR_up, p13_loopR_dn],
    (2, 0): [p20_ring, p20_vtx],
    (2, 1): [p21_arm_up, p21_arm_dn, p21_oval_up_a, p21_oval_up_b, p21_oval_dn_a, p21_oval_dn_b],
    (2, 2): [p22_arm_up, p22_arm_dn, p22_loopL_up, p22_loopL_dn, p22_loopR_up, p22_loopR_dn],
    (2, 3): [p23_arm_up, p23_arm_dn, p23_loopL_up, p23_loopL_dn, p23_loopR_up, p23_loopR_dn],
    (3, 0): [p30_blob],
    (3, 1): [p31_bowl_up, p31_bowl_dn, p31_paren, p31_arm_up, p31_arm_dn,
             p31_bar_up_a, p31_bar_up_b, p31_bar_dn_a, p31_bar_dn_b],
    (3, 2): [p32_arm_up, p32_arm_dn, p32_loopL_up, p32_loopL_dn, p32_loopR_up, p32_loopR_dn],
    (3, 3): [p33_arm_up, p33_arm_dn, p33_loopL_up, p33_loopL_dn, p33_loopR_up, p33_loopR_dn],
}
panel_dots = {
    (1, 0): [p10_top_dots, p10_up_dots, p10_bot_dots, p10_dn_dots],
    (1, 1): [p11_oval_up_dots, p11_oval_dn_dots],
    (1, 3): [p13_top_dots, p13_bot_dots],
    (2, 0): [p20_col_up, p20_col_dn, p20_vtx_up_dots, p20_vtx_dn_dots],
    (2, 1): [p21_top_dots, p21_bot_dots, p21_oval_up_dots, p21_oval_dn_dots],
    (2, 2): [p22_top_dots, p22_bot_dots],
    (2, 3): [p23_top_dots, p23_bot_dots],
    (3, 0): [p30_up_dots, p30_dn_dots],
    (3, 1): [p31_top_dots, p31_bot_dots, p31_bar_up_dots, p31_bar_dn_dots],
    (3, 2): [p32_top_dots, p32_bot_dots],
    (3, 3): [p33_top_dots, p33_bot_dots],
}

#===== colour scale (Mathematica-like rainbow) =====#
rb_colors = ['#781c87', '#4733c2', '#4066d1', '#5294ba', '#73b87f',
             '#9ec252', '#c7bd40', '#e09e38', '#e57a30', '#db1f1f']
rb_pos = [0, 0.12, 0.25, 0.38, 0.5, 0.62, 0.72, 0.82, 0.9, 1.0]
cmap = LinearSegmentedColormap.from_list('rainbowish', list(zip(rb_pos, rb_colors)))
norm = Normalize(-np.pi / 2, np.pi / 2)


def add_line(ax, br, lw=2.8):
    x, z, b = (np.asarray(v, dtype=float) for v in br)
    pts = np.column_stack([x, z])
    segs = np.stack([pts[:-1], pts[1:]], axis=1)
    jump = np.abs(np.diff(b)) > 1.5
    seg_b = np.where(jump, b[:-1], 0.5 * (b[:-1] + b[1:]))
    lc = LineCollection(segs, cmap=cmap, norm=norm, linewidths=lw,
                        capstyle='round', joinstyle='round', zorder=3)
    lc.set_array(seg_b)
    ax.add_collection(lc)


def add_dots(ax, br, s=9):
    x, z, b = br
    ax.scatter(x, z, c=b, cmap=cmap, norm=norm, s=s, linewidths=0, zorder=3)


#===== figure / layout (pixel based) =====#
W, H = 1118, 911
fig = plt.figure(figsize=(W / 100, H / 100), dpi=100)

col_left = [58, 323, 588, 851]
row_top = [83.5, 274.0, 465.0, 655.5]
pw, ph = 234, 146
title_x = [183, 446, 713, 977]
axcol = '#333333'

for r in range(4):
    for c in range(4):
        L, T = col_left[c], row_top[r]
        ax = fig.add_axes([L / W, 1 - (T + ph) / H, pw / W, ph / H])
        xmin, xmax = x_ranges[c]
        ax.set_xlim(xmin, xmax)
        ax.set_ylim(-5.1, 5.1)
        ax.patch.set_alpha(0)
        for s in ['top', 'right']:
            ax.spines[s].set_visible(False)
        ax.spines['left'].set_position(('data', 0))
        ax.spines['bottom'].set_position(('data', 0))
        for s in ['left', 'bottom']:
            ax.spines[s].set_linewidth(1.0)
            ax.spines[s].set_color(axcol)
        ax.xaxis.set_major_locator(FixedLocator(x_majors[c]))
        ax.xaxis.set_minor_locator(MultipleLocator(0.2))
        ax.yaxis.set_major_locator(FixedLocator(z_majors))
        ax.yaxis.set_minor_locator(MultipleLocator(0.5))
        ax.tick_params(which='major', direction='in', length=4.5, width=0.9,
                       color=axcol, labelsize=13, pad=3)
        ax.tick_params(which='minor', direction='in', length=2.5, width=0.7, color=axcol)
        ax.set_xticklabels(['\u2212%d' % -v if v < 0 else '%d' % v for v in x_majors[c]])
        ax.set_yticklabels(['\u2212%d' % -v if v < 0 else '%d' % v for v in z_majors])

        for br in panel_lines.get((r, c), []):
            add_line(ax, br)
        for br in panel_dots.get((r, c), []):
            add_dots(ax, br)
        if (r, c) in centre_dot_x:
            ax.scatter([centre_dot_x[(r, c)]], [0], color=cmap(norm(0.0)), s=12,
                       linewidths=0, zorder=4)

        # axis labels in Mathematica style: x at the right end, z above the top
        zero_px = L + pw * (0 - xmin) / (xmax - xmin)
        fig.text((L + pw + 20) / W, 1 - (T + ph / 2) / H, 'x', fontsize=16,
                 ha='center', va='center')
        fig.text(zero_px / W, 1 - (T - 19) / H, 'z', fontsize=16, ha='center', va='center')

for c in range(4):
    fig.text(title_x[c] / W, 1 - 20 / H, F_labels[c], fontsize=13.5, ha='center', va='center')
for r in range(4):
    fig.text(20 / W, 1 - (row_top[r] + 58) / H, q_labels[r], fontsize=14.5,
             rotation=90, ha='center', va='center')

#===== colour bar =====#
cax = fig.add_axes([102 / W, 1 - 845 / H, 915 / W, 12 / H])
sm = cm.ScalarMappable(norm=norm, cmap=cmap)
cb = fig.colorbar(sm, cax=cax, orientation='horizontal')
cb.set_ticks(cbar_ticks)
cb.set_ticklabels(cbar_labels)
cb.ax.xaxis.set_minor_locator(MultipleLocator(0.1))
cb.ax.tick_params(which='major', length=7, width=0.8, color='#b0b0b0',
                  labelsize=13, labelcolor='#555555', pad=4)
cb.ax.tick_params(which='minor', length=4, width=0.6, color='#c8c8c8')
for lab in cb.ax.get_xticklabels():
    lab.set_family(['Liberation Sans Narrow', 'Liberation Sans'])
cb.outline.set_linewidth(0.8)
cb.outline.set_edgecolor('#333333')
fig.text(553 / W, 1 - 897 / H, '\u03b2', fontsize=18, style='italic',
         family=['Liberation Serif', 'DejaVu Serif'], color='#555555',
         ha='center', va='center')

fig.savefig('out.png', dpi=100)
